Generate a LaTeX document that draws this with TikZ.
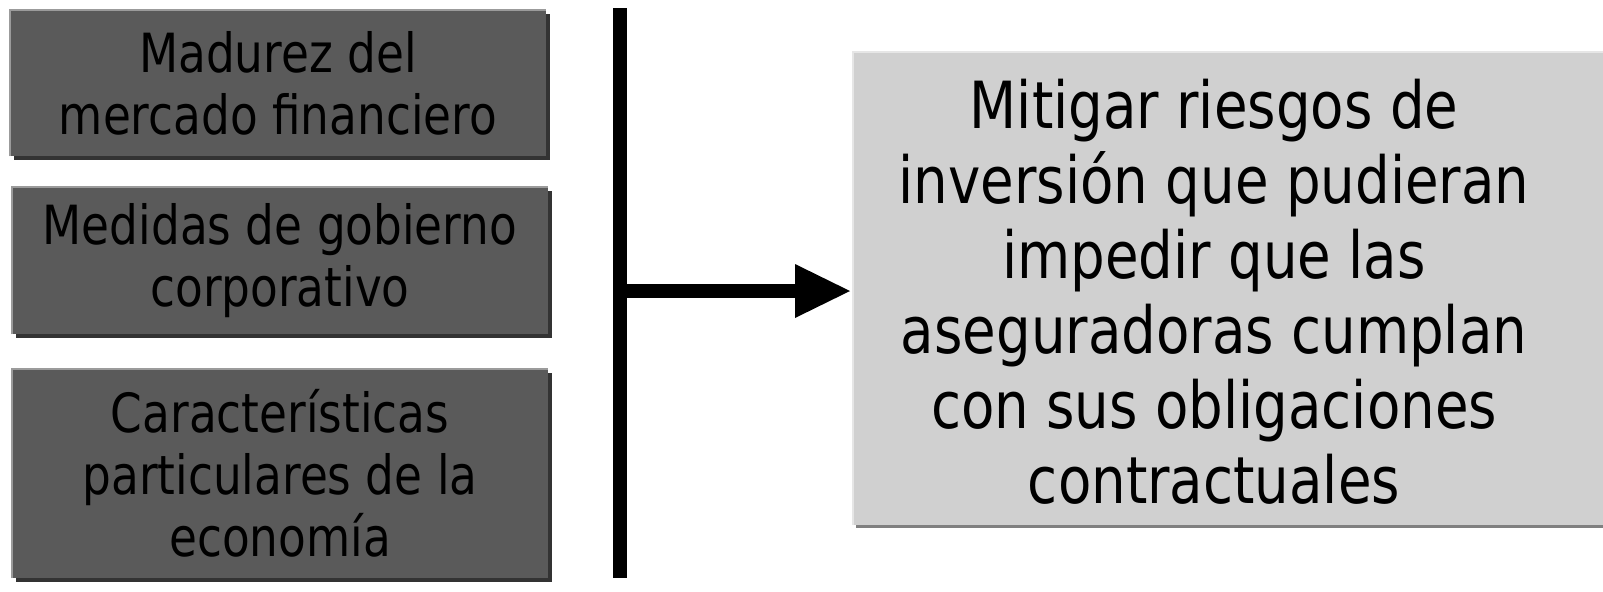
\documentclass[tikz,border=0pt]{standalone}
\usepackage{fontspec}
\setmainfont{DejaVu Sans}[FakeStretch=0.84]
\usepackage{tikz}
\usetikzlibrary{shadows}
\definecolor{boxdark}{RGB}{90,90,90}
\definecolor{boxdarkedge}{RGB}{155,155,155}
\definecolor{boxdarkshadow}{RGB}{51,51,51}
\definecolor{boxlight}{RGB}{208,208,208}
\definecolor{boxlightedge}{RGB}{230,230,230}
\definecolor{boxlightshadow}{RGB}{128,128,128}

\begin{document}
\begin{tikzpicture}[x=0.5pt,y=0.5pt]
\tikzstyle{every node}+=[inner sep=0pt]
\tikzstyle{factor}=[fill=boxdark, minimum width=268pt, align=center,
  font=\fontsize{27}{31}\selectfont,
  drop shadow={shadow xshift=2pt,shadow yshift=-2pt,fill=boxdarkshadow,opacity=1}]
\tikzstyle{goalbox}=[fill=boxlight, minimum width=380pt, minimum height=236.5pt,
  drop shadow={shadow xshift=1.5pt,shadow yshift=-1.5pt,fill=boxlightshadow,opacity=1}]
\useasboundingbox (0,0) rectangle (1603,-591);
% factores
\node (mad) [factor, minimum height=73pt] at (278,-83) {Madurez del\\mercado financiero};
\node (med) [factor, minimum height=73.5pt] at (280,-260.5) {Medidas de gobierno\\corporativo};
\node (car) [factor, minimum height=104.5pt] at (280,-473.5) {Características\\particulares de la\\economía};
\foreach \b in {mad,med,car}
  \draw [boxdarkedge, line width=1pt] (\b.south west) |- (\b.north east);
% objetivo
\node (goal) [goalbox] at (1233,-288.5) {};
\draw [boxlightedge, line width=1pt] (goal.south west) |- (goal.north east);
\node (goaltext) [align=center, font=\fontsize{32.5}{37.5}\selectfont] at (1214,-292)
  {Mitigar riesgos de\\inversión que pudieran\\impedir que las\\aseguradoras cumplan\\con sus obligaciones\\contractuales};
% barra y flecha
\node (bar) [fill=black, minimum width=7pt, minimum height=285pt] at (619.5,-293) {};
\coordinate (tip) at (850,-291);
\draw [line width=7pt] (bar.center |- tip) -- ([xshift=-26pt]tip);
\fill [black] (tip) -- ++(-55,27) -- ++(0,-54) -- cycle;
\end{tikzpicture}
\end{document}
